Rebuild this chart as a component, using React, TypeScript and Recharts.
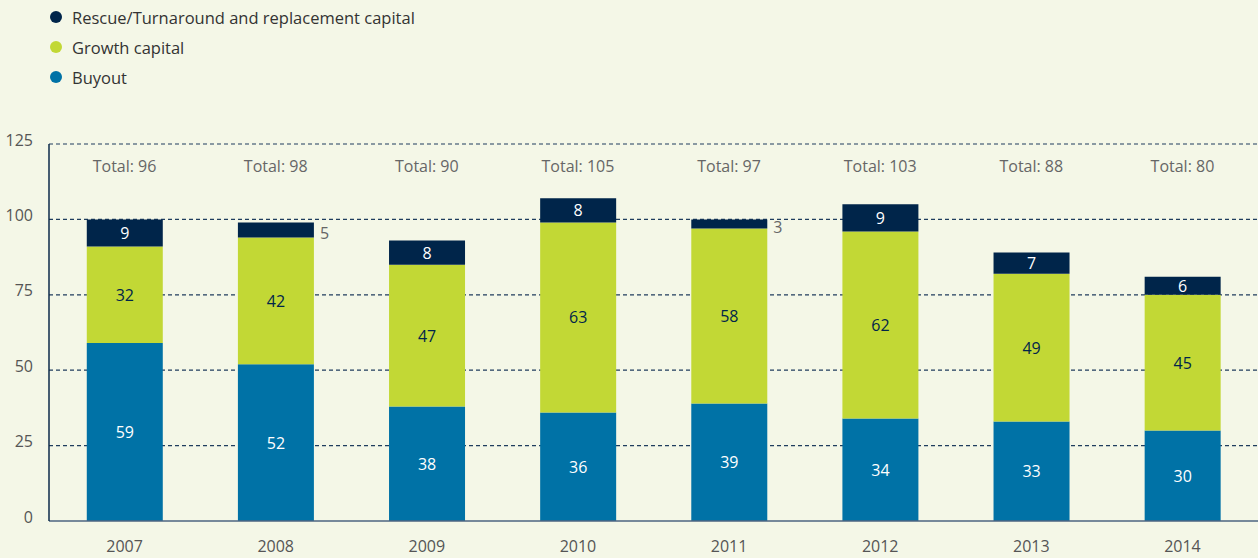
import React from 'react';
import { BarChart, Bar, XAxis, YAxis, CartesianGrid, LabelList, ReferenceDot, Legend } from 'recharts';

const years = ['2007', '2008', '2009', '2010', '2011', '2012', '2013', '2014'];
const buyout = [59, 52, 38, 36, 39, 34, 33, 30];
const growth = [32, 42, 47, 63, 58, 62, 49, 45];
const rescue = [9, 5, 8, 8, 3, 9, 7, 6];
const totals = [96, 98, 90, 105, 97, 103, 88, 80];
const yTicks = [0, 25, 50, 75, 100, 125];
const legendItems = [
  { name: 'Rescue/Turnaround and replacement capital', color: '#00254a' },
  { name: 'Growth capital', color: '#c2d835' },
  { name: 'Buyout', color: '#0072a6' },
];

const data = years.map((y, i) => ({ year: y, buyout: buyout[i], growth: growth[i], rescue: rescue[i] }));

const FONT = '"Open Sans", "DejaVu Sans", sans-serif';

const makeLabel = (fill: string) => (props: any) => {
  const { x, y, width, height, value } = props;
  if (value <= 5) {
    return (
      <text x={x + width + 6} y={y + height / 2 + 3} fill="#666" fontSize={16} textAnchor="start" dominantBaseline="central">
        {value}
      </text>
    );
  }
  return (
    <text x={x + width / 2} y={y + height / 2} fill={fill} fontSize={16} textAnchor="middle" dominantBaseline="central">
      {value}
    </text>
  );
};

const LegendContent = () => (
  <div style={{ fontFamily: FONT, fontSize: 16.5, color: '#333' }}>
    {legendItems.map((it) => (
      <div key={it.name} style={{ display: 'flex', alignItems: 'center', height: 30 }}>
        <svg width={12} height={12} style={{ marginRight: 10 }}>
          <circle cx={6} cy={6} r={6} fill={it.color} />
        </svg>
        <span>{it.name}</span>
      </div>
    ))}
  </div>
);

export default function App() {
  return (
    <div style={{ position: 'absolute', left: 0, top: 0, width: 1258, height: 558, background: '#f4f7e7', fontFamily: FONT }}>
      <BarChart width={1258} height={558} data={data} margin={{ top: 144, right: 0, bottom: 7, left: 0 }} barCategoryGap="25%">
        <CartesianGrid vertical={false} horizontal stroke="#1f3d5e" strokeDasharray="4 3" strokeWidth={1.2} horizontalValues={[25, 50, 75, 100, 125]} />
        <XAxis
          dataKey="year"
          height={30}
          tickLine={false}
          tickSize={0}
          tickMargin={20}
          axisLine={{ stroke: '#4d6580', strokeWidth: 1.5 }}
          tick={{ fill: '#555', fontSize: 16, fontFamily: FONT }}
        />
        <YAxis
          width={49}
          domain={[0, 125]}
          ticks={yTicks}
          interval={0}
          tickLine={false}
          tickSize={0}
          tickMargin={16}
          axisLine={{ stroke: '#0d2a4a', strokeWidth: 1.5 }}
          tick={{ fill: '#555', fontSize: 16, fontFamily: FONT, dy: -4 }}
        />
        <Legend
          layout="vertical"
          align="center"
          verticalAlign="middle"
          wrapperStyle={{ top: 2, left: 50, width: 440 }}
          content={<LegendContent />}
        />
        <Bar dataKey="buyout" stackId="a" fill="#0072a6" isAnimationActive={false}>
          <LabelList dataKey="buyout" content={makeLabel('#ffffff')} />
        </Bar>
        <Bar dataKey="growth" stackId="a" fill="#c2d835" isAnimationActive={false}>
          <LabelList dataKey="growth" content={makeLabel('#00254a')} />
        </Bar>
        <Bar dataKey="rescue" stackId="a" fill="#00254a" isAnimationActive={false}>
          <LabelList dataKey="rescue" content={makeLabel('#ffffff')} />
        </Bar>
        {years.map((y, i) => (
          <ReferenceDot
            key={y}
            x={y}
            y={117.5}
            r={1}
            fill="none"
            stroke="none"
            ifOverflow="visible"
            label={{ value: `Total: ${totals[i]}`, position: 'center', fill: '#666', fontSize: 16, fontFamily: FONT }}
          />
        ))}
      </BarChart>
    </div>
  );
}
